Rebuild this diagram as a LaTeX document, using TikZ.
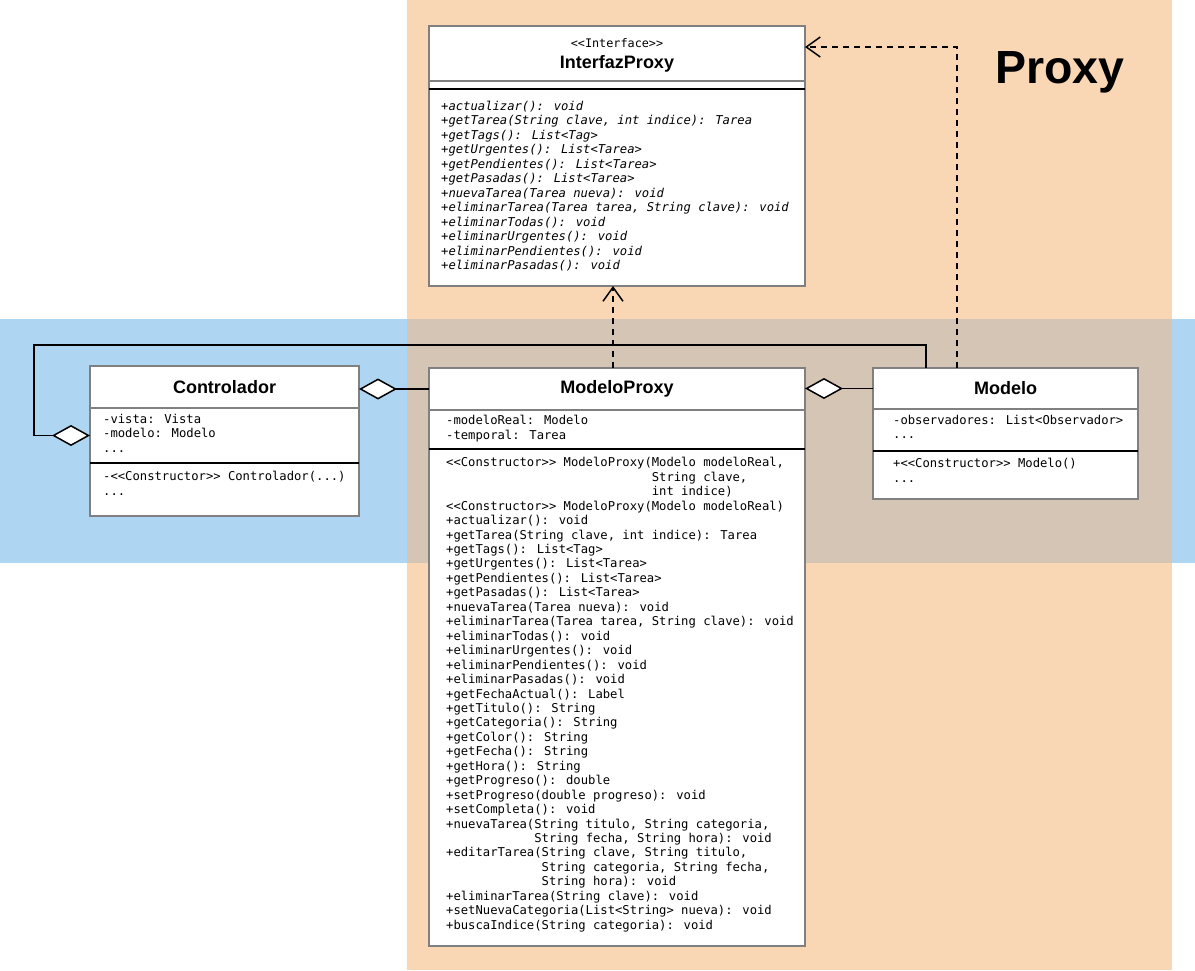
\documentclass[tikz,border=0pt]{standalone}
\usepackage{fontspec}
\newfontfamily\umlsans{Liberation Sans}
\newfontfamily\umlmono[Ligatures=TeXOff]{DejaVu Sans Mono}
\usetikzlibrary{positioning, arrows.meta}

\definecolor{proxyzone}{HTML}{FAD7B4}
\definecolor{mvczone}{HTML}{AED5F1}
\definecolor{bothzone}{HTML}{D5C5B5}

\newcommand\memberfont{\umlmono\fontsize{12.2}{14.45}\selectfont}

\tikzset{
  classname/.style={draw=black!50, line width=1.2pt, fill=white, outer sep=0pt,
    inner sep=0pt, font=\umlsans\bfseries\fontsize{18}{20}\selectfont},
  classpart/.style={draw=black!50, line width=1.2pt, fill=white, outer sep=0pt,
    inner sep=0pt},
  members/.style={inner sep=0pt, align=left, anchor=west, font=\memberfont,
    execute at begin node=\strut, execute at end node=\strut},
  split/.style={line width=1.2pt},
  aggregation/.style={line width=1.5pt,
    -{Diamond[fill=white, length=38pt, width=21pt]}},
  realization/.style={line width=1.5pt, dash pattern=on 6pt off 5pt,
    -{Straight Barb[length=14pt, width=20pt]}},
}

\begin{document}
\begin{tikzpicture}[x=1pt, y=-1pt]
  \useasboundingbox (0,0) rectangle (1195,970);

  % zones
  \fill[proxyzone] (407,0) rectangle (1172,970);
  \fill[mvczone] (0,319) rectangle (1195,563);
  \fill[bothzone] (407,319) rectangle (1172,563);
  \node[font=\umlsans\bfseries\fontsize{46.5}{50}\selectfont, anchor=base]
    (zonetitle) at (1060,83) {Proxy};

  % InterfazProxy
  \node[classname, anchor=north west, minimum width=376pt, minimum height=55pt,
    align=center, text depth=0pt] (ip) at (429,26)
    {{\umlmono\mdseries\fontsize{11.8}{20}\selectfont <<Interface>>}\\[0.5pt]InterfazProxy};
  \node[classpart, below=0pt of ip, minimum width=376pt, minimum height=8pt] (ip-attr) {};
  \node[classpart, below=0pt of ip-attr, minimum width=376pt, minimum height=197pt] (ip-meth) {};
  \draw[split] (ip-meth.north west) -- (ip-meth.north east);
  \node[members, font=\memberfont\itshape] (ip-ops) at ([xshift=12pt]ip-meth.west)
    {+actualizar(): void\\
     +getTarea(String clave, int indice): Tarea\\
     +getTags(): List<Tag>\\
     +getUrgentes(): List<Tarea>\\
     +getPendientes(): List<Tarea>\\
     +getPasadas(): List<Tarea>\\
     +nuevaTarea(Tarea nueva): void\\
     +eliminarTarea(Tarea tarea, String clave): void\\
     +eliminarTodas(): void\\
     +eliminarUrgentes(): void\\
     +eliminarPendientes(): void\\
     +eliminarPasadas(): void};

  % Controlador
  \node[classname, anchor=north west, minimum width=269pt, minimum height=42pt]
    (co) at (90,366) {Controlador};
  \node[classpart, below=0pt of co, minimum width=269pt, minimum height=55pt] (co-attr) {};
  \node[classpart, below=0pt of co-attr, minimum width=269pt, minimum height=53pt] (co-meth) {};
  \draw[split] (co-meth.north west) -- (co-meth.north east);
  \node[members] (co-fields) at ([xshift=13pt]co-attr.west)
    {-vista: Vista\\-modelo: Modelo\\...};
  \node[members] (co-ops) at ([xshift=13pt, yshift=4pt]co-meth.west)
    {-<<Constructor>> Controlador(...)\\...};

  % ModeloProxy
  \node[classname, anchor=north west, minimum width=376pt, minimum height=42pt]
    (mp) at (429,368) {ModeloProxy};
  \node[classpart, below=0pt of mp, minimum width=376pt, minimum height=39pt] (mp-attr) {};
  \node[classpart, below=0pt of mp-attr, minimum width=376pt, minimum height=497pt] (mp-meth) {};
  \draw[split] (mp-meth.north west) -- (mp-meth.north east);
  \node[members] (mp-fields) at ([xshift=17pt]mp-attr.west)
    {-modeloReal: Modelo\\-temporal: Tarea};
  \node[members] (mp-ops) at ([xshift=17pt, yshift=2pt]mp-meth.west)
    {<<Constructor>> ModeloProxy(Modelo modeloReal,\\
     \hphantom{<<Constructor>> ModeloProxy(}String clave,\\
     \hphantom{<<Constructor>> ModeloProxy(}int indice)\\
     <<Constructor>> ModeloProxy(Modelo modeloReal)\\
     +actualizar(): void\\
     +getTarea(String clave, int indice): Tarea\\
     +getTags(): List<Tag>\\
     +getUrgentes(): List<Tarea>\\
     +getPendientes(): List<Tarea>\\
     +getPasadas(): List<Tarea>\\
     +nuevaTarea(Tarea nueva): void\\
     +eliminarTarea(Tarea tarea, String clave): void\\
     +eliminarTodas(): void\\
     +eliminarUrgentes(): void\\
     +eliminarPendientes(): void\\
     +eliminarPasadas(): void\\
     +getFechaActual(): Label\\
     +getTitulo(): String\\
     +getCategoria(): String\\
     +getColor(): String\\
     +getFecha(): String\\
     +getHora(): String\\
     +getProgreso(): double\\
     +setProgreso(double progreso): void\\
     +setCompleta(): void\\
     +nuevaTarea(String titulo, String categoria,\\
     \hphantom{+nuevaTarea(}String fecha, String hora): void\\
     +editarTarea(String clave, String titulo,\\
     \hphantom{+editarTarea(}String categoria, String fecha,\\
     \hphantom{+editarTarea(}String hora): void\\
     +eliminarTarea(String clave): void\\
     +setNuevaCategoria(List<String> nueva): void\\
     +buscaIndice(String categoria): void};

  % Modelo
  \node[classname, anchor=north west, minimum width=265pt, minimum height=41pt]
    (mo) at (873,368) {Modelo};
  \node[classpart, below=0pt of mo, minimum width=265pt, minimum height=42pt] (mo-attr) {};
  \node[classpart, below=0pt of mo-attr, minimum width=265pt, minimum height=48pt] (mo-meth) {};
  \draw[split] (mo-meth.north west) -- (mo-meth.north east);
  \node[members] (mo-fields) at ([xshift=20pt, yshift=1pt]mo-attr.west)
    {-observadores: List<Observador>\\...};
  \node[members] (mo-ops) at ([xshift=20pt, yshift=2.5pt]mo-meth.west)
    {+<<Constructor>> Modelo()\\...};

  % relations
  \draw[realization] ([xshift=-4pt]mp.north) -- ([xshift=-4pt]ip-meth.south);
  \draw[realization] ([xshift=84pt]mo.north west) |- ([yshift=-21pt]ip.north east);
  \draw[aggregation] (mp.west) -- (mp.west -| co.east);
  \draw[aggregation] (mo.west) -- (mo.west -| mp.east);
  \draw[aggregation] ([xshift=53pt]mo.north west) -- ++(0,-23)
    -| ([xshift=-56pt]co-attr.west) -- (co-attr.west);
\end{tikzpicture}
\end{document}
